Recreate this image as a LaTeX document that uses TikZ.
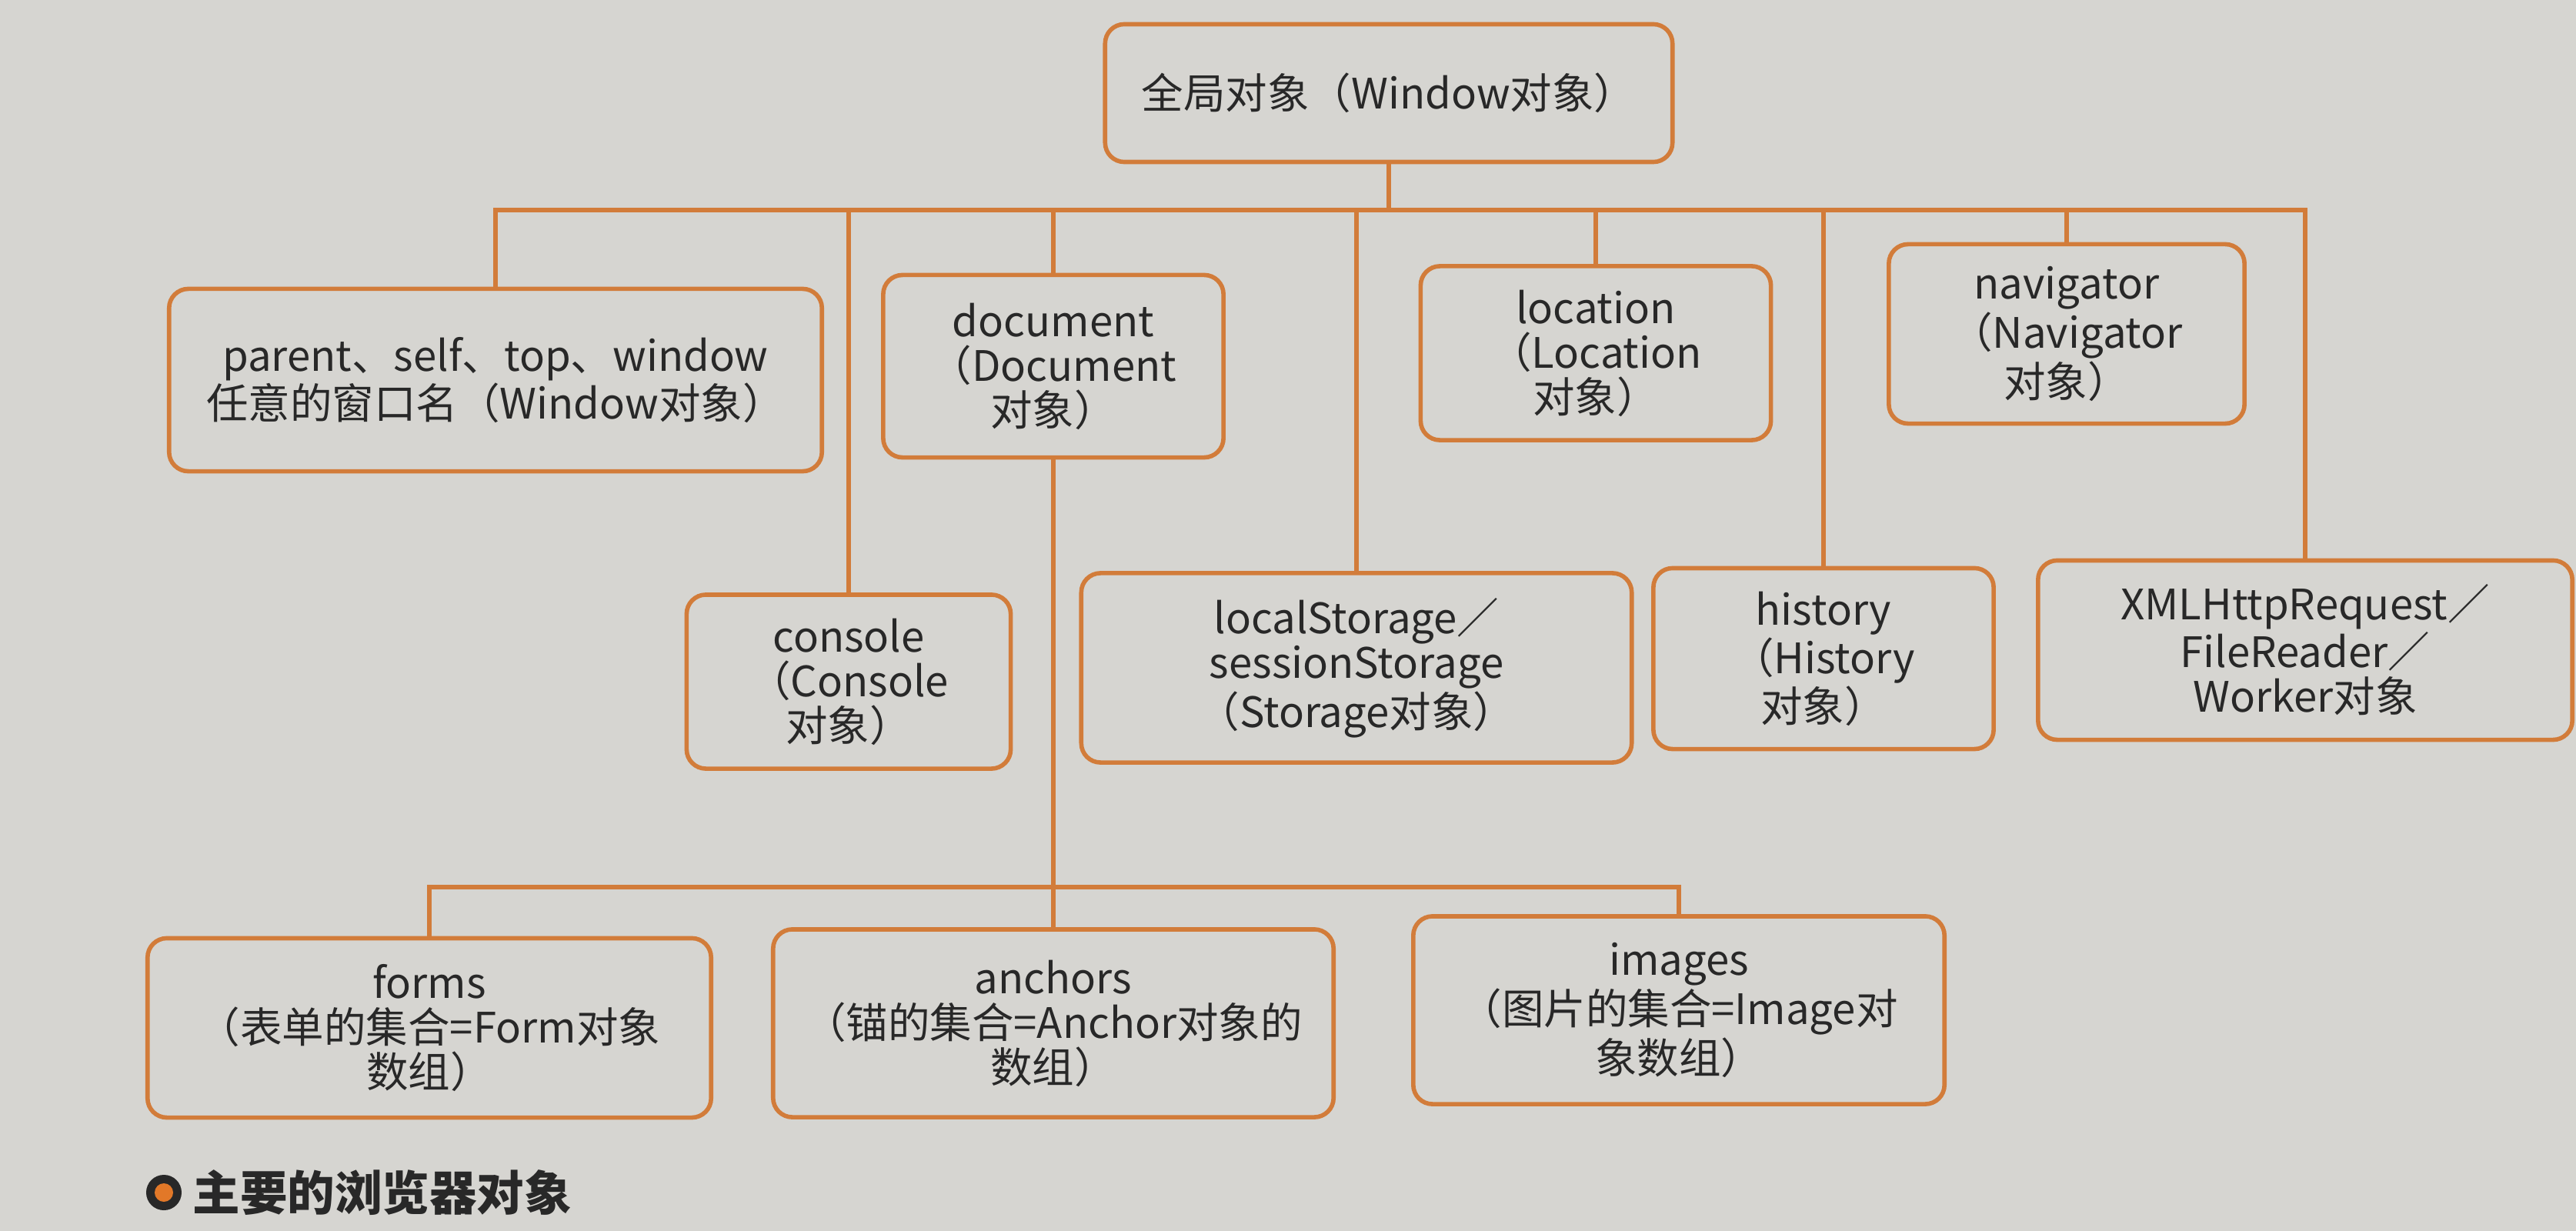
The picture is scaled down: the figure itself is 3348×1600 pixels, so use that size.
\documentclass[tikz,border=0pt]{standalone}
\usepackage{fontspec}
\setmainfont{Noto Sans CJK SC}
\definecolor{paper}{RGB}{214,213,209}
\definecolor{boxline}{RGB}{210,124,58}
\definecolor{ink}{RGB}{40,40,40}
\definecolor{dotorange}{RGB}{226,120,40}
\begin{document}
\begin{tikzpicture}[x=0.01cm,y=-0.01cm,
  box/.style={draw=boxline, line width=1.6pt, rounded corners=0.25cm, fill=paper,
    align=center, inner sep=0pt, text=ink, font=\fontsize{15.5}{16.5}\selectfont},
  link/.style={draw=boxline, line width=1.8pt}]
\fill[paper] (0,0) rectangle (3348,1600);
\useasboundingbox (0,0) rectangle (3348,1600);

% top
\node[box, minimum width=7.37cm, minimum height=1.79cm] (win) at (1805,121) {全局对象（Window对象）};

% second row
\node[box, minimum width=8.48cm, minimum height=2.37cm] (parent) at (644,494)
  {parent、self、top、window\\任意的窗口名（Window对象）};
\node[box, minimum width=4.42cm, minimum height=2.37cm] (doc) at (1369,476)
  {document\\（Document\\对象）};
\node[box, minimum width=4.55cm, minimum height=2.26cm] (loc) at (2074,459)
  {location\\（Location\\对象）};
\node[box, minimum width=4.62cm, minimum height=2.33cm] (nav) at (2686,434)
  {navigator\\（Navigator\\对象）};

% third row
\node[box, minimum width=4.21cm, minimum height=2.26cm] (con) at (1103,886)
  {console\\（Console\\对象）};
\node[box, minimum width=7.15cm, minimum height=2.46cm] (stor) at (1763,868)
  {localStorage／\\sessionStorage\\（Storage对象）};
\node[box, minimum width=4.42cm, minimum height=2.35cm] (hist) at (2370,856)
  {history\\（History\\对象）};
\node[box, minimum width=6.94cm, minimum height=2.33cm] (xml) at (2996,845)
  {XMLHttpRequest／\\FileReader／\\Worker对象};

% bottom row
\node[box, minimum width=7.32cm, minimum height=2.33cm] (forms) at (558,1336)
  {forms\\（表单的集合=Form对象\\数组）};
\node[box, minimum width=7.28cm, minimum height=2.44cm] (anch) at (1369,1330)
  {anchors\\（锚的集合=Anchor对象的\\数组）};
\node[box, minimum width=6.90cm, minimum height=2.44cm] (img) at (2182,1313)
  {images\\（图片的集合=Image对\\象数组）};

% connectors
\coordinate (bus) at (0,273);
\coordinate (sub) at (0,1153);
\draw[link] (win.south) -- (win.south |- bus);
\draw[link] (parent.north) -- (parent.north |- bus) -- (xml.north |- bus) -- (xml.north);
\foreach \n in {con,doc,stor,loc,hist,nav}
  \draw[link] (\n.north) -- (\n.north |- bus);
\draw[link] (doc.south) -- (anch.north);
\draw[link] (forms.north) -- (forms.north |- sub) -- (img.north |- sub) -- (img.north);

% caption
\node[circle, fill=ink, minimum size=0.46cm, inner sep=0pt] (dot) at (213,1550) {};
\node[circle, fill=dotorange, minimum size=0.24cm, inner sep=0pt] (dotin) at (dot) {};
\node[anchor=west, text=ink, inner sep=0pt, font=\bfseries\fontsize{17.5}{20}\selectfont] (cap) at (250,1550) {主要的浏览器对象};
\end{tikzpicture}
\end{document}
